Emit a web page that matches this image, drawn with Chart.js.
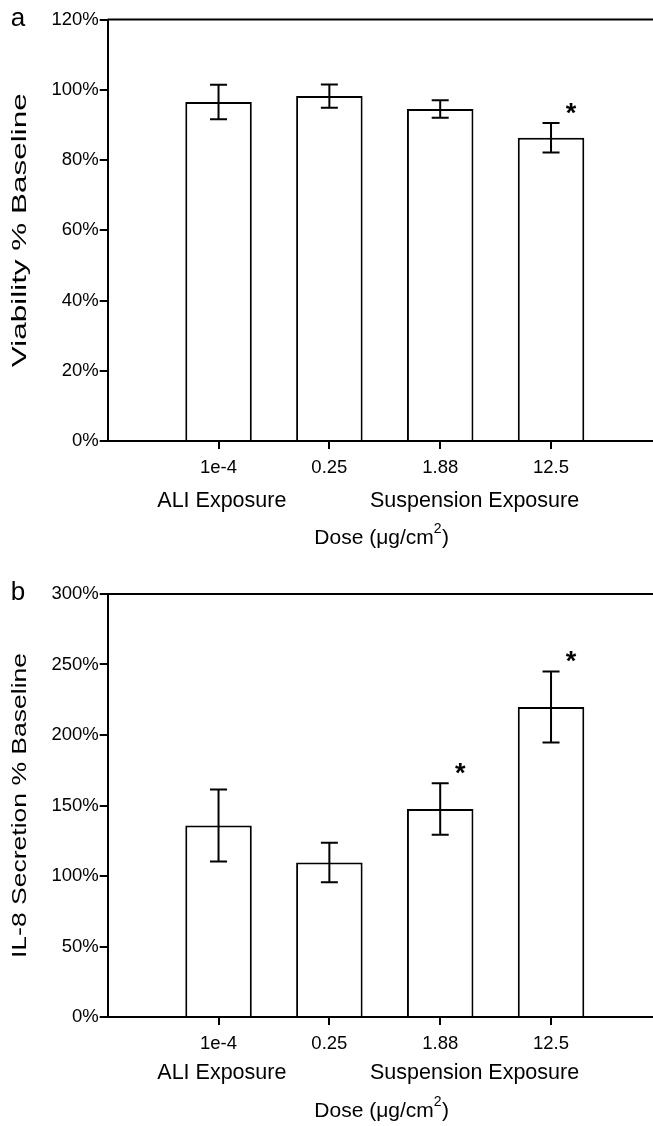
<!DOCTYPE html>
<html lang="en">
<head>
    <meta charset="UTF-8">
    <title>Viability and IL-8 Secretion</title>
    <script src="https://cdn.jsdelivr.net/npm/chart.js"></script>
    <style>
        body {
            margin: 0;
            background-color: white;
            font-family: "Liberation Sans", Arial, sans-serif;
        }
        .panel {
            width: 653px;
            height: 563px;
        }
    </style>
</head>
<body>
    <div class="panel"><canvas id="chartA" width="653" height="563"></canvas></div>
    <div class="panel"><canvas id="chartB" width="653" height="563"></canvas></div>

    <script>
        // data
        const doseLabels = ['1e-4', '0.25', '1.88', '12.5'];
        const doseX = [1, 2, 3, 4];
        const groupLabels = ['ALI Exposure', 'Suspension Exposure'];

        const viabilityMean = [96.5, 98.2, 94.5, 86.3];
        const viabilityErr = [4.9, 3.3, 2.5, 4.2];
        const viabilitySig = [false, false, false, true];

        const il8Mean = [135.8, 109.5, 147.5, 219.8];
        const il8Err = [25.5, 14.0, 18.3, 25.2];
        const il8Sig = [false, false, true, true];

        const FONT = '"Liberation Sans", Arial, sans-serif';
        Chart.defaults.font.family = FONT;
        Chart.defaults.color = '#000';

        // error bars, stars, top frame line, group labels, titles
        const decorPlugin = {
            id: 'decor',
            afterDatasetsDraw(chart, args, opts) {
                const ctx = chart.ctx;
                const area = chart.chartArea;
                const ys = chart.scales.y;
                const meta = chart.getDatasetMeta(0);

                ctx.save();
                ctx.strokeStyle = '#000';
                ctx.fillStyle = '#000';
                ctx.lineWidth = 2;

                // top frame line
                ctx.beginPath();
                ctx.moveTo(area.left, area.top);
                ctx.lineTo(area.right, area.top);
                ctx.stroke();

                // error bars
                meta.data.forEach((bar, i) => {
                    const hi = ys.getPixelForValue(opts.mean[i] + opts.err[i]);
                    const lo = ys.getPixelForValue(opts.mean[i] - opts.err[i]);
                    const cap = 8.5;
                    ctx.beginPath();
                    ctx.moveTo(bar.x, hi);
                    ctx.lineTo(bar.x, lo);
                    ctx.moveTo(bar.x - cap, hi);
                    ctx.lineTo(bar.x + cap, hi);
                    ctx.moveTo(bar.x - cap, lo);
                    ctx.lineTo(bar.x + cap, lo);
                    ctx.stroke();

                    if (opts.sig[i]) {
                        ctx.font = 'bold 27px ' + FONT;
                        ctx.textAlign = 'center';
                        ctx.textBaseline = 'middle';
                        ctx.fillText('*', bar.x + 20, hi - 9);
                    }
                });
                ctx.restore();
            },
            afterDraw(chart, args, opts) {
                const ctx = chart.ctx;
                const area = chart.chartArea;
                const xs = chart.scales.x;

                ctx.save();
                ctx.fillStyle = '#000';
                ctx.textAlign = 'center';
                ctx.textBaseline = 'middle';

                // group labels under the ticks
                ctx.font = '21.5px ' + FONT;
                ctx.fillText(groupLabels[0], xs.getPixelForValue(1.03), area.bottom + opts.groupGap);
                ctx.fillText(groupLabels[1], xs.getPixelForValue(3.31), area.bottom + opts.groupGap);

                // x title with superscript
                const tx = xs.getPixelForValue(2.47);
                const ty = area.bottom + opts.titleGap;
                const main = 'Dose (\u03bcg/cm';
                ctx.font = '21px ' + FONT;
                const wMain = ctx.measureText(main).width;
                ctx.font = '14px ' + FONT;
                const wSup = ctx.measureText('2').width;
                ctx.font = '21px ' + FONT;
                let x0 = tx - (wMain + wSup + ctx.measureText(')').width) / 2;
                ctx.textAlign = 'left';
                ctx.fillText(main, x0, ty);
                ctx.font = '14px ' + FONT;
                ctx.fillText('2', x0 + wMain, ty - 9);
                ctx.font = '21px ' + FONT;
                ctx.fillText(')', x0 + wMain + wSup + 0.5, ty);

                // y title, stretched along its length like the original
                ctx.save();
                ctx.translate(20, (area.top + area.bottom) / 2);
                ctx.rotate(-Math.PI / 2);
                ctx.textAlign = 'center';
                ctx.font = '20px ' + FONT;
                const w = ctx.measureText(opts.yTitle).width;
                ctx.scale(opts.yTitleLen / w, 1);
                ctx.fillText(opts.yTitle, 0, 0);
                ctx.restore();

                // panel letter
                ctx.font = '26px ' + FONT;
                ctx.textAlign = 'center';
                ctx.fillText(opts.letter, 18, area.top - 1);
                ctx.restore();
            }
        };

        function makeChart(id, mean, err, sig, yMax, yStep, topPad, xHeight, letter, yTitle, yTitleLen, groupGap, titleGap) {
            return new Chart(document.getElementById(id), {
                type: 'bar',
                data: {
                    datasets: [{
                        data: doseX.map((x, i) => ({ x: x, y: mean[i] })),
                        backgroundColor: '#fff',
                        borderColor: '#000',
                        borderWidth: 2,
                        barPercentage: 0.75,
                        categoryPercentage: 0.8
                    }]
                },
                options: {
                    responsive: false,
                    animation: false,
                    layout: { padding: { top: topPad, left: 0, right: 0, bottom: 0 } },
                    plugins: {
                        legend: { display: false },
                        tooltip: { enabled: false },
                        decor: {
                            mean: mean, err: err, sig: sig, letter: letter,
                            yTitle: yTitle, yTitleLen: yTitleLen,
                            groupGap: groupGap, titleGap: titleGap
                        }
                    },
                    scales: {
                        x: {
                            type: 'linear',
                            min: 0,
                            max: 4.92,
                            offset: false,
                            afterBuildTicks: (scale) => {
                                scale.ticks = doseX.map(v => ({ value: v }));
                            },
                            afterFit: (scale) => { scale.height = xHeight; },
                            grid: { offset: false, drawOnChartArea: false, drawTicks: true, tickLength: 8, color: '#000', lineWidth: 2 },
                            border: { display: true, color: '#000', width: 2 },
                            ticks: {
                                font: { size: 18.5 },
                                padding: 8,
                                maxRotation: 0,
                                callback: (v) => doseLabels[doseX.indexOf(v)] || ''
                            }
                        },
                        y: {
                            min: 0,
                            max: yMax,
                            afterFit: (scale) => { scale.width = 107.7; },
                            grid: { drawOnChartArea: false, drawTicks: true, tickLength: 8, color: '#000', lineWidth: 2 },
                            border: { display: true, color: '#000', width: 2 },
                            ticks: {
                                stepSize: yStep,
                                font: { size: 18.5 },
                                padding: 1,
                                callback: (v) => v + '%'
                            }
                        }
                    }
                },
                plugins: [decorPlugin]
            });
        }

        makeChart('chartA', viabilityMean, viabilityErr, viabilitySig, 120, 20, 19.5, 122, 'a',
            'Viability % Baseline', 274, 60, 97);
        makeChart('chartB', il8Mean, il8Err, il8Sig, 300, 50, 31, 109, 'b',
            'IL-8 Secretion % Baseline', 305, 56, 94);
    </script>
</body>
</html>
